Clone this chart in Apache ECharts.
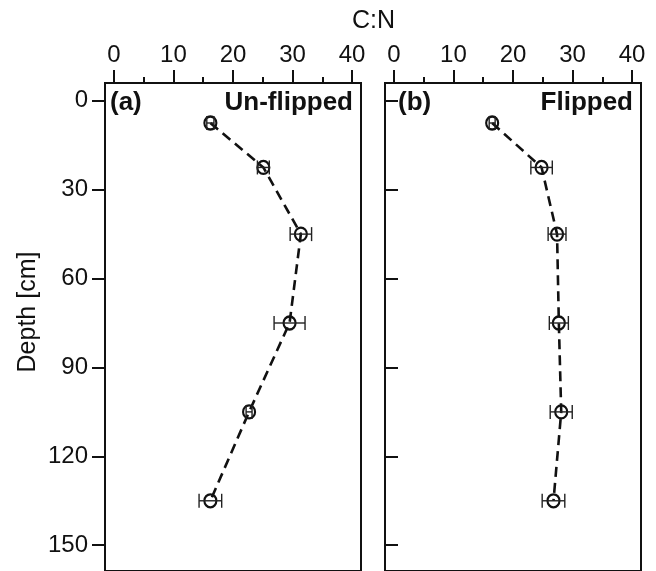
<!DOCTYPE html>
<html>
<head>
<meta charset="utf-8">
<script src="https://cdn.jsdelivr.net/npm/echarts@6/dist/echarts.min.js"></script>
<style>
  html, body { margin: 0; padding: 0; background: #fff; }
  #chart { width: 656px; height: 571px; }
</style>
</head>
<body>
<div id="chart"></div>
<script>
// Soil depth profiles of C:N ratio (mean ± error), un-flipped vs flipped plots
const depths = [7.5, 22.5, 45, 75, 105, 135];
const cnUnflipped = [16.2, 25.1, 31.4, 29.5, 22.7, 16.2];
const errUnflipped = [0.6, 1.0, 1.8, 2.6, 0.5, 1.9];
const cnFlipped = [16.5, 24.8, 27.4, 27.7, 28.1, 26.8];
const errFlipped = [0.5, 1.8, 1.5, 1.6, 1.85, 1.9];

const xTicks = [0, 10, 20, 30, 40];
const xMinorTicks = [5, 15, 25, 35];
const depthTicks = [0, 30, 60, 90, 120, 150];

const FONT = 'Liberation Sans, Arial, Helvetica, sans-serif';
const INK = '#111';

const chart = echarts.init(document.getElementById('chart'), null, { renderer: 'canvas' });

function majorX(gridIndex) {
  return {
    type: 'value', gridIndex, position: 'top', min: -1.5, max: 41.5,
    axisLine: { show: true, onZero: false, lineStyle: { color: INK, width: 2 } },
    axisTick: { show: true, customValues: xTicks, length: 13, inside: false, lineStyle: { color: INK, width: 2 } },
    axisLabel: { show: true, customValues: xTicks, margin: 16, fontSize: 24, fontFamily: FONT, color: INK },
    splitLine: { show: false }
  };
}
function minorX(gridIndex) {
  return {
    type: 'value', gridIndex, position: 'top', min: -1.5, max: 41.5,
    axisLine: { show: false, onZero: false },
    axisTick: { show: true, customValues: xMinorTicks, length: 6, inside: false, lineStyle: { color: INK, width: 2 } },
    axisLabel: { show: false },
    splitLine: { show: false }
  };
}
function depthAxis(gridIndex, showLabels) {
  return {
    type: 'value', gridIndex, inverse: true, min: -6, max: 158.7,
    axisLine: { show: true, onZero: false, lineStyle: { color: INK, width: 2 } },
    axisTick: { show: true, customValues: depthTicks, length: 13, inside: !showLabels, lineStyle: { color: INK, width: 2 } },
    axisLabel: { show: showLabels, customValues: depthTicks, margin: 17, fontSize: 24, fontFamily: FONT, color: INK },
    splitLine: { show: false }
  };
}

function profileSeries(cn, xAxisIndex, yAxisIndex) {
  return {
    type: 'line', xAxisIndex, yAxisIndex,
    data: depths.map((d, i) => [cn[i], d]),
    symbol: 'circle', symbolSize: [12, 13],
    itemStyle: { color: 'rgba(0,0,0,0)', borderColor: INK, borderWidth: 2.2 },
    lineStyle: { color: INK, width: 2.6, type: [10, 6] },
    z: 3, animation: false, silent: true
  };
}

function errorSeries(cn, err, xAxisIndex, yAxisIndex) {
  return {
    type: 'custom', xAxisIndex, yAxisIndex,
    data: depths.map((d, i) => [cn[i], d, cn[i] - err[i], cn[i] + err[i]]),
    encode: { x: 0, y: 1 },
    renderItem: function (params, api) {
      const y = api.value(1);
      const lo = api.coord([api.value(2), y]);
      const hi = api.coord([api.value(3), y]);
      const h = 7;
      const st = { stroke: '#222', lineWidth: 1.4 };
      return {
        type: 'group',
        children: [
          { type: 'line', shape: { x1: lo[0], y1: lo[1], x2: hi[0], y2: hi[1] }, style: st },
          { type: 'line', shape: { x1: lo[0], y1: lo[1] - h, x2: lo[0], y2: lo[1] + h }, style: st },
          { type: 'line', shape: { x1: hi[0], y1: hi[1] - h, x2: hi[0], y2: hi[1] + h }, style: st }
        ]
      };
    },
    z: 4, animation: false, silent: true
  };
}

const option = {
  backgroundColor: '#fff',
  animation: false,
  grid: [
    { left: 105, top: 83, width: 256, height: 497, show: true, borderColor: INK, borderWidth: 2, backgroundColor: 'transparent' },
    { left: 385, top: 83, width: 256, height: 497, show: true, borderColor: INK, borderWidth: 2, backgroundColor: 'transparent' }
  ],
  xAxis: [majorX(0), minorX(0), majorX(1), minorX(1)],
  yAxis: [depthAxis(0, true), depthAxis(1, false)],
  series: [
    profileSeries(cnUnflipped, 0, 0),
    errorSeries(cnUnflipped, errUnflipped, 0, 0),
    profileSeries(cnFlipped, 2, 1),
    errorSeries(cnFlipped, errFlipped, 2, 1)
  ],
  graphic: [
    { type: 'text', x: 373.5, y: 21, style: { text: 'C:N', font: '25px ' + FONT, fill: INK, align: 'center', verticalAlign: 'middle' } },
    { type: 'text', x: 28, y: 312, rotation: Math.PI / 2,
      style: { text: 'Depth [cm]', font: '25px ' + FONT, fill: INK, align: 'center', verticalAlign: 'middle' } },
    { type: 'text', x: 110, y: 103, style: { text: '(a)', font: 'bold 26px ' + FONT, fill: INK, align: 'left', verticalAlign: 'middle' } },
    { type: 'text', x: 353, y: 103, style: { text: 'Un-flipped', font: 'bold 26px ' + FONT, fill: INK, align: 'right', verticalAlign: 'middle' } },
    { type: 'text', x: 398, y: 103, style: { text: '(b)', font: 'bold 26px ' + FONT, fill: INK, align: 'left', verticalAlign: 'middle' } },
    { type: 'text', x: 633, y: 103, style: { text: 'Flipped', font: 'bold 26px ' + FONT, fill: INK, align: 'right', verticalAlign: 'middle' } }
  ]
};

chart.setOption(option);
</script>
</body>
</html>
